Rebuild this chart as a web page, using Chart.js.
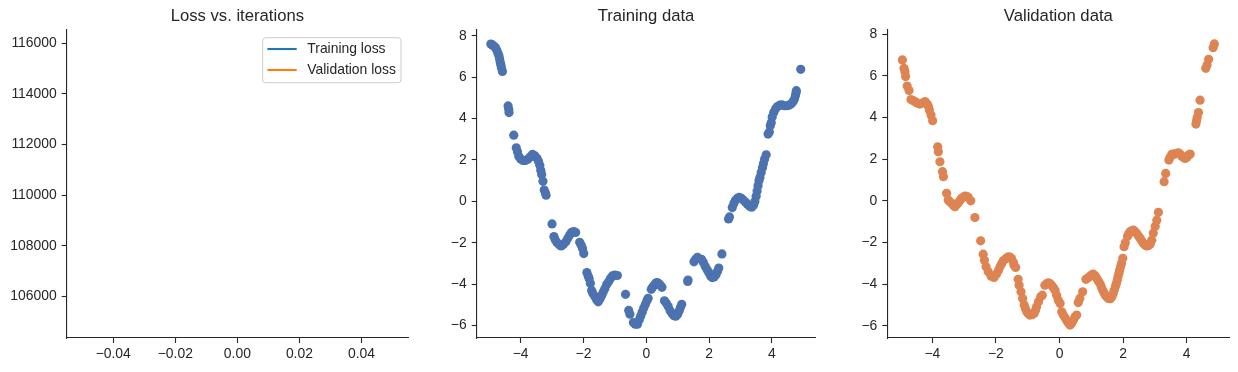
<!DOCTYPE html>
<html>
<head>
<meta charset="utf-8">
<script src="https://cdn.jsdelivr.net/npm/chart.js@4/dist/chart.umd.min.js"></script>
<style>
  html, body { margin: 0; padding: 0; background: #ffffff; }
  #wrap { position: relative; width: 1238px; height: 372px; overflow: hidden; }
  canvas { position: absolute; top: 0; }
</style>
</head>
<body>
<div id="wrap">
  <canvas id="c1" width="410" height="372" style="left:0px;width:410px;height:372px"></canvas>
  <canvas id="c2" width="410" height="372" style="left:410px;width:410px;height:372px"></canvas>
  <canvas id="c3" width="418" height="372" style="left:820px;width:418px;height:372px"></canvas>
</div>
<script>
// ---------------- data ----------------
const titles = ['Loss vs. iterations', 'Training data', 'Validation data'];
const lossIterations = [0];
const trainingLoss = [110440];
const validationLoss = [110440];
const lossLabels = ['Training loss', 'Validation loss'];

const lossXTicks = [-0.04, -0.02, 0.00, 0.02, 0.04];
const lossYTicks = [106000, 108000, 110000, 112000, 114000, 116000];
const dataXTicks = [-4, -2, 0, 2, 4];
const dataYTicks = [-6, -4, -2, 0, 2, 4, 6, 8];

const trainPoints = [
  [-4.95,7.60],[-4.90,7.56],[-4.85,7.50],[-4.80,7.42],[-4.76,7.30],[-4.72,7.15],[-4.69,7.02],[-4.67,6.88],[-4.65,6.72],[-4.63,6.58],[-4.61,6.44],[-4.58,6.28],
  [-4.40,4.61],[-4.38,4.45],[-4.37,4.29],[-4.22,3.20],
  [-4.14,2.59],[-4.10,2.40],[-4.06,2.18],[-4.00,2.05],[-3.93,1.98],[-3.85,1.98],[-3.77,2.03],[-3.70,2.15],[-3.62,2.27],[-3.55,2.20],[-3.48,2.08],[-3.43,1.93],[-3.39,1.75],[-3.36,1.50],[-3.33,1.30],[-3.29,0.97],[-3.25,0.55],[-3.21,0.40],[-3.19,0.30],
  [-3.00,-1.09],
  [-2.94,-1.70],[-2.90,-1.85],[-2.84,-2.00],[-2.77,-2.10],[-2.71,-2.15],[-2.64,-2.08],[-2.56,-1.95],[-2.50,-1.78],[-2.44,-1.62],[-2.38,-1.50],[-2.31,-1.46],[-2.25,-1.50],
  [-2.12,-1.98],[-2.07,-2.12],[-2.03,-2.28],[-1.99,-2.52],
  [-1.89,-3.44],[-1.85,-3.60],[-1.82,-3.72],[-1.78,-3.95],[-1.74,-4.30],[-1.70,-4.45],[-1.64,-4.60],[-1.58,-4.75],[-1.53,-4.85],[-1.47,-4.70],[-1.42,-4.55],[-1.37,-4.38],[-1.32,-4.22],[-1.26,-4.02],[-1.20,-3.88],[-1.14,-3.72],[-1.08,-3.60],[-1.00,-3.56],[-0.92,-3.58],
  [-0.66,-4.49],[-0.56,-5.27],[-0.52,-5.45],
  [-0.41,-5.85],[-0.35,-5.93],[-0.28,-5.93],[-0.22,-5.72],[-0.18,-5.55],[-0.13,-5.35],[-0.08,-5.15],[-0.03,-4.98],[0.02,-4.80],[0.06,-4.68],
  [0.16,-4.25],[0.20,-4.15],[0.25,-4.05],[0.30,-3.95],[0.35,-3.92],[0.40,-3.98],[0.45,-4.05],[0.50,-4.15],
  [0.58,-4.80],[0.64,-4.92],[0.70,-5.08],[0.76,-5.28],[0.82,-5.42],[0.88,-5.52],[0.94,-5.55],[1.00,-5.45],[1.05,-5.28],[1.09,-5.12],[1.13,-4.97],
  [1.32,-3.87],[1.33,-3.80],
  [1.52,-2.92],[1.57,-2.80],[1.63,-2.70],
  [1.76,-2.80],[1.82,-2.95],[1.88,-3.15],[1.94,-3.30],[1.99,-3.44],[2.05,-3.60],[2.10,-3.68],[2.16,-3.65],[2.22,-3.55],[2.27,-3.38],[2.31,-3.22],
  [2.41,-2.54],
  [2.62,-0.85],[2.65,-0.75],[2.74,-0.30],[2.79,-0.10],[2.84,0.05],[2.90,0.15],[2.96,0.20],[3.03,0.15],[3.10,0.05],[3.17,-0.05],[3.23,-0.15],[3.30,-0.25],[3.36,-0.28],[3.42,-0.18],[3.46,0.00],[3.50,0.25],[3.53,0.50],[3.56,0.75],[3.59,1.00],[3.62,1.15],[3.66,1.40],[3.70,1.62],[3.73,1.82],[3.77,2.05],[3.82,2.25],
  [3.88,3.25],[3.92,3.35],[3.95,3.65],[3.98,3.80],[4.01,4.08],[4.06,4.30],[4.12,4.48],[4.18,4.58],[4.25,4.65],[4.32,4.66],[4.40,4.62],[4.48,4.62],[4.55,4.65],[4.62,4.72],[4.68,4.82],[4.72,4.95],[4.75,5.10],[4.77,5.25],[4.78,5.35],
  [4.92,6.38]
];

const valPoints = [
  [-4.94,6.77],[-4.89,6.37],[-4.86,6.21],[-4.84,5.97],[-4.79,5.52],[-4.73,5.30],
  [-4.67,4.87],[-4.61,4.82],[-4.55,4.77],[-4.47,4.70],[-4.39,4.65],[-4.31,4.70],[-4.23,4.77],[-4.16,4.65],[-4.12,4.52],[-4.09,4.36],[-4.04,4.12],[-3.99,3.85],
  [-3.83,2.60],[-3.81,2.36],[-3.76,1.88],[-3.68,1.40],[-3.65,1.16],[-3.55,0.36],
  [-3.50,0.04],[-3.45,-0.04],[-3.39,-0.12],[-3.34,-0.20],[-3.29,-0.28],[-3.23,-0.18],[-3.18,-0.09],[-3.13,0.02],[-3.08,0.12],[-3.02,0.18],[-2.97,0.23],[-2.92,0.22],[-2.87,0.17],[-2.79,0.00],
  [-2.66,-0.80],[-2.48,-1.92],
  [-2.40,-2.56],[-2.36,-2.85],[-2.31,-3.17],[-2.24,-3.41],[-2.15,-3.62],[-2.06,-3.68],[-1.98,-3.52],[-1.92,-3.35],[-1.87,-3.17],[-1.82,-3.02],[-1.77,-2.88],[-1.69,-2.78],[-1.61,-2.69],[-1.56,-2.70],[-1.51,-2.77],[-1.45,-2.95],[-1.43,-3.09],[-1.38,-3.20],
  [-1.30,-3.77],[-1.27,-4.05],[-1.21,-4.37],[-1.16,-4.69],[-1.11,-5.00],[-1.07,-5.18],[-1.03,-5.33],[-0.98,-5.42],[-0.93,-5.49],[-0.86,-5.47],[-0.80,-5.41],[-0.75,-5.25],[-0.72,-5.09],[-0.66,-4.85],[-0.59,-4.61],[-0.54,-4.53],
  [-0.46,-4.05],[-0.40,-3.98],[-0.35,-3.94],[-0.30,-3.98],[-0.25,-4.05],[-0.19,-4.17],[-0.14,-4.29],[-0.09,-4.53],[-0.04,-4.77],[0.02,-4.93],
  [0.07,-5.33],[0.12,-5.49],[0.18,-5.63],[0.23,-5.76],[0.28,-5.87],[0.33,-5.97],[0.38,-5.89],[0.44,-5.72],[0.49,-5.57],[0.54,-5.49],
  [0.59,-4.89],[0.64,-4.69],[0.73,-4.37],
  [0.83,-3.77],[0.90,-3.70],[0.96,-3.62],[1.02,-3.55],[1.06,-3.52],[1.12,-3.60],[1.17,-3.72],[1.22,-3.85],[1.28,-3.99],[1.32,-4.15],[1.36,-4.29],[1.40,-4.42],[1.44,-4.53],[1.49,-4.62],[1.54,-4.69],[1.60,-4.70],[1.65,-4.61],[1.69,-4.45],[1.72,-4.29],[1.76,-4.12],[1.79,-3.97],[1.82,-3.80],[1.84,-3.65],[1.87,-3.48],[1.89,-3.33],[1.92,-3.17],[1.95,-3.01],[1.99,-2.76],
  [2.03,-2.20],[2.07,-2.01],[2.14,-1.70],[2.18,-1.58],[2.22,-1.49],[2.28,-1.43],[2.33,-1.41],[2.38,-1.48],[2.43,-1.57],[2.49,-1.70],[2.54,-1.81],[2.59,-1.93],[2.64,-2.05],[2.70,-2.13],[2.75,-2.17],[2.80,-2.14],[2.85,-2.08],[2.90,-1.89],
  [2.95,-1.54],[3.01,-1.22],[3.06,-0.93],[3.11,-0.55],
  [3.29,0.92],[3.34,1.32],
  [3.44,1.96],[3.48,2.10],[3.53,2.23],[3.58,2.25],[3.63,2.25],[3.69,2.28],[3.74,2.31],[3.79,2.25],[3.84,2.15],[3.90,2.08],[3.95,2.04],[4.01,2.10],[4.06,2.20],[4.11,2.25],
  [4.29,3.69],[4.31,3.85],[4.33,4.01],[4.37,4.24],
  [4.42,4.84],
  [4.60,6.37],[4.64,6.53],[4.69,6.80],
  [4.83,7.36],[4.87,7.54]
];

// ---------------- style ----------------
const INK = '#262626';
const TICK_PX = 13.9;
const TITLE_PX = 16.67;
Chart.defaults.font.family = "'Liberation Sans', Arial, sans-serif";
Chart.defaults.color = INK;

function fmtMinus(v, dec) {
  const s = Math.abs(v).toFixed(dec);
  return (v < 0 ? '\u2212' : '') + s;
}

function axis(min, max, ticksArr, dec, isY, fitSize) {
  return {
    type: 'linear',
    min: min, max: max,
    afterBuildTicks: (s) => { s.ticks = ticksArr.map(v => ({ value: v })); },
    afterFit: (s) => { if (isY) s.width = fitSize; else s.height = fitSize; },
    grid: { drawOnChartArea: false, drawTicks: true, tickLength: 5, tickColor: INK, tickWidth: 1.1 },
    border: { display: true, color: INK, width: 1.1 },
    ticks: {
      color: INK,
      font: { size: TICK_PX },
      padding: isY ? 5 : 3,
      maxRotation: 0,
      autoSkip: false,
      callback: (v) => fmtMinus(v, dec)
    }
  };
}

function titleCfg(text) {
  return {
    display: true, text: text, color: INK, fullSize: false,
    font: { size: TITLE_PX, weight: 'normal', lineHeight: 1.2 },
    padding: { top: 6, bottom: 4 }
  };
}

const mplLegend = {
  id: 'mplLegend',
  afterDraw(chart) {
    const ctx = chart.ctx;
    const ca = chart.chartArea;
    const w = 138.3, h = 45;
    const x0 = ca.right - 7 - w, y0 = ca.top + 7.7;
    ctx.save();
    ctx.beginPath();
    if (ctx.roundRect) ctx.roundRect(x0, y0, w, h, 3); else ctx.rect(x0, y0, w, h);
    ctx.fillStyle = 'rgba(255,255,255,0.8)';
    ctx.fill();
    ctx.strokeStyle = '#cccccc';
    ctx.lineWidth = 1;
    ctx.stroke();
    ctx.font = TICK_PX + "px 'Liberation Sans', Arial, sans-serif";
    ctx.textBaseline = 'middle';
    ctx.textAlign = 'left';
    chart.data.datasets.forEach((ds, i) => {
      const yy = y0 + 11.3 + i * 21;
      ctx.beginPath();
      ctx.moveTo(x0 + 4.7, yy);
      ctx.lineTo(x0 + 34, yy);
      ctx.strokeStyle = ds.borderColor;
      ctx.lineWidth = 2.1;
      ctx.stroke();
      ctx.fillStyle = INK;
      ctx.fillText(ds.label, x0 + 44.6, yy + 0.5);
    });
    ctx.restore();
  }
};

const common = (padRight) => ({
  responsive: false,
  animation: false,
  devicePixelRatio: 1,
  layout: { padding: { left: 0, right: padRight, top: 0, bottom: 0 } },
});

// ---------------- chart 1 ----------------
new Chart(document.getElementById('c1'), {
  type: 'line',
  data: {
    datasets: [
      { label: lossLabels[0], data: lossIterations.map((x, i) => ({ x: x, y: trainingLoss[i] })), borderColor: '#1f77b4', borderWidth: 2.1, pointRadius: 0 },
      { label: lossLabels[1], data: lossIterations.map((x, i) => ({ x: x, y: validationLoss[i] })), borderColor: '#ff7f0e', borderWidth: 2.1, pointRadius: 0 }
    ]
  },
  options: Object.assign(common(2), {
    scales: {
      x: axis(-0.055, 0.055, lossXTicks, 2, false, 34),
      y: axis(104366, 116514, lossYTicks, 0, true, 66.7)
    },
    plugins: { legend: { display: false }, tooltip: { enabled: false }, title: titleCfg(titles[0]) }
  }),
  plugins: [mplLegend]
});

// ---------------- chart 2 ----------------
new Chart(document.getElementById('c2'), {
  type: 'scatter',
  data: {
    datasets: [{
      label: titles[1],
      data: trainPoints.map(p => ({ x: p[0], y: p[1] })),
      backgroundColor: '#4c72b0', borderWidth: 0, pointRadius: 4.6, pointHoverRadius: 4.6
    }]
  },
  options: Object.assign(common(1.7), {
    scales: {
      x: axis(-5.40, 5.387, dataXTicks, 0, false, 34),
      y: axis(-6.60, 8.28, dataYTicks, 0, true, 66.7)
    },
    plugins: { legend: { display: false }, tooltip: { enabled: false }, title: titleCfg(titles[1]) }
  })
});

// ---------------- chart 3 ----------------
new Chart(document.getElementById('c3'), {
  type: 'scatter',
  data: {
    datasets: [{
      label: titles[2],
      data: valPoints.map(p => ({ x: p[0], y: p[1] })),
      backgroundColor: '#dd8452', borderWidth: 0, pointRadius: 4.6, pointHoverRadius: 4.6
    }]
  },
  options: Object.assign(common(8.7), {
    scales: {
      x: axis(-5.415, 5.34, dataXTicks, 0, false, 34),
      y: axis(-6.59, 8.21, dataYTicks, 0, true, 67.3)
    },
    plugins: { legend: { display: false }, tooltip: { enabled: false }, title: titleCfg(titles[2]) }
  })
});
</script>
</body>
</html>
